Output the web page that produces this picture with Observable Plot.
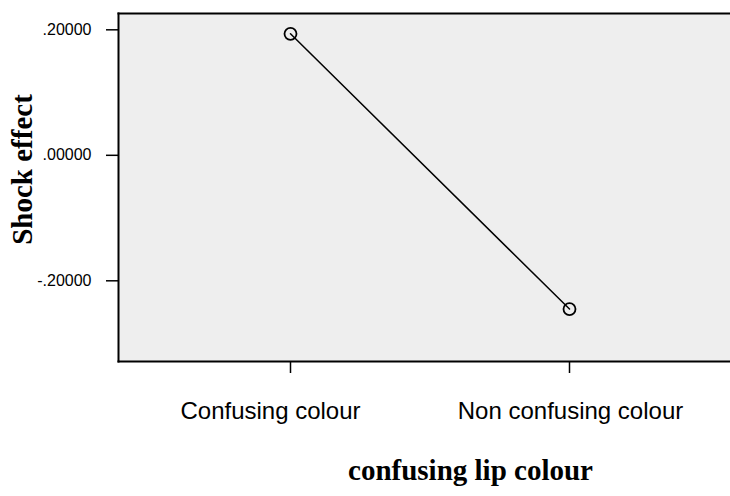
<!DOCTYPE html>
<html><head><meta charset="utf-8">
<script src="https://cdn.jsdelivr.net/npm/d3@7"></script>
<script src="https://cdn.jsdelivr.net/npm/@observablehq/plot@0.6"></script>
<style>body{margin:0;background:#fff;overflow:hidden}</style>
</head><body><div id="chart"></div>
<script>
const categories = ["Confusing colour", "Non confusing colour"];
const shockEffect = [0.1936, -0.245];
const yTicks = [-0.2, 0, 0.2];
const xTitle = "confusing lip colour";
const yTitle = "Shock effect";

const data = categories.map((c, i) => ({cat: c, value: shockEffect[i]}));
const fmt = v => d3.format(".5f")(v).replace("\u2212", "-").replace(/^(-?)0\./, "$1.");
const serif = "'Liberation Serif', 'Times New Roman', serif";

const chart = Plot.plot({
  width: 730, height: 496,
  marginLeft: 118, marginRight: 0, marginTop: 13, marginBottom: 135,
  style: {background: "#fff", color: "#000", fontFamily: "'Liberation Sans', Arial, sans-serif"},
  x: {type: "point", domain: categories, padding: 0, insetLeft: 172, insetRight: 161},
  y: {domain: [-0.3286, 0.226]},
  marks: [
    Plot.frame({fill: "#eeeeee", stroke: "none"}),
    Plot.frame({anchor: "top", stroke: "#000", strokeWidth: 2}),
    Plot.frame({anchor: "bottom", stroke: "#000", strokeWidth: 2}),
    Plot.frame({anchor: "left", stroke: "#000", strokeWidth: 2}),
    Plot.axisY({ticks: yTicks, tickFormat: fmt, tickSize: 12, tickPadding: 15, fontSize: 16, label: null, strokeWidth: 1.5}),
    Plot.axisX({ticks: categories, tickFormat: () => "", tickSize: 12, label: null, strokeWidth: 1.5}),
    Plot.axisX({ticks: [categories[0]], tickSize: 0, tickPadding: 40, dx: -20, fontSize: 24, label: null}),
    Plot.axisX({ticks: [categories[1]], tickSize: 0, tickPadding: 40, dx: 1, fontSize: 24, label: null}),
    Plot.line(data, {x: "cat", y: "value", stroke: "#000", strokeWidth: 1.5}),
    Plot.dot(data, {x: "cat", y: "value", r: 6, stroke: "#000", strokeWidth: 1.8, fill: "none"}),
    Plot.text([yTitle], {text: d => d, frameAnchor: "left", textAnchor: "middle", rotate: -90, dx: -96, dy: -18, fontSize: 29, fontWeight: "bold", fontFamily: serif}),
    Plot.text([xTitle], {text: d => d, frameAnchor: "bottom", lineAnchor: "bottom", dx: 46, dy: 118, fontSize: 29, fontWeight: "bold", fontFamily: serif})
  ]
});
document.getElementById("chart").appendChild(chart);
</script>
</body></html>
